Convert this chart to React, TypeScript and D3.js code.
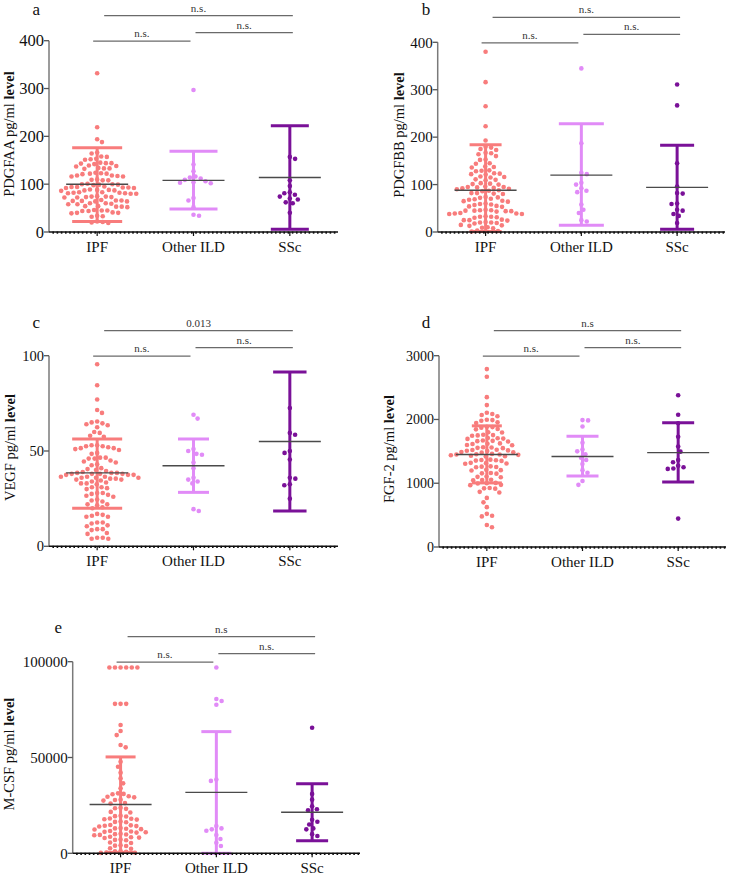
import React from "react";
import * as d3 from "d3";

const CATEGORIES = ["IPF", "Other ILD", "SSc"];
const COLORS = ["#f87c7c", "#e18bf7", "#7a1198"];

// ---------- Panel a: PDGFAA ----------
const PDGFAA_IPF = [332, 219, 194, 188, 166, 164, 158, 157, 153, 152, 151, 145, 144, 144, 143, 142, 139, 138, 137, 134, 133, 133, 132, 124, 123, 122, 122, 121, 118, 118, 117, 116, 116, 110, 109, 108, 108, 101, 100, 100, 99, 99, 98, 95, 94, 94, 93, 93, 92, 92, 89, 88, 88, 87, 87, 86, 83, 83, 82, 82, 81, 81, 80, 80, 75, 74, 74, 73, 73, 72, 72, 67, 66, 66, 65, 65, 64, 64, 60, 60, 59, 58, 58, 54, 54, 53, 53, 52, 46, 45, 45, 44, 44, 41, 40, 40, 39, 34, 33, 32, 22, 21, 20, 19];
const PDGFAA_OTHER = [297, 141, 127, 116, 114, 112, 109, 106, 104, 103, 102, 71, 66, 52, 36, 34];
const PDGFAA_SSC = [157, 153, 108, 96, 83, 81, 78, 74, 70, 68, 62, 60, 40];
const PDGFAA_MEAN = [100, 108, 114];
const PDGFAA_SD_HIGH = [176, 169, 222];
const PDGFAA_SD_LOW = [22, 48, 6];
const PDGFAA_TICKS = [0, 100, 200, 300, 400];
const PDGFAA_SIG = ["n.s.", "n.s.", "n.s."];

// ---------- Panel b: PDGFBB ----------
const PDGFBB_IPF = [380, 316, 265, 223, 193, 180, 178, 175, 173, 167, 166, 164, 160, 153, 152, 145, 144, 138, 137, 136, 130, 129, 128, 124, 123, 122, 121, 117, 116, 115, 111, 110, 109, 103, 102, 101, 100, 96, 95, 95, 94, 93, 92, 91, 90, 88, 87, 86, 82, 82, 81, 80, 74, 73, 72, 70, 69, 68, 66, 65, 64, 60, 59, 58, 57, 55, 54, 53, 47, 46, 46, 45, 45, 44, 44, 43, 40, 39, 39, 38, 38, 33, 32, 32, 31, 30, 26, 25, 25, 24, 21, 20, 20, 19, 18, 15, 14, 13, 10, 9, 8, 3, 2, 1];
const PDGFBB_OTHER = [345, 187, 125, 122, 104, 100, 92, 87, 84, 58, 47, 40, 25, 22];
const PDGFBB_SSC = [311, 267, 145, 96, 82, 81, 60, 59, 47, 45, 38, 34, 19];
const PDGFBB_MEAN = [88, 120, 94];
const PDGFBB_SD_HIGH = [184, 228, 183];
const PDGFBB_SD_LOW = [1, 14, 6];
const PDGFBB_TICKS = [0, 100, 200, 300, 400];
const PDGFBB_SIG = ["n.s.", "n.s.", "n.s."];

// ---------- Panel c: VEGF ----------
const VEGF_IPF = [95.5, 84.5, 77, 71.5, 70, 65.5, 65, 64.5, 64, 63.5, 62.5, 60, 59.5, 58, 57.5, 53, 53, 52.5, 52.5, 52, 51.5, 51.5, 51, 50.5, 49, 48.5, 46.5, 46.5, 46, 46, 45, 44.5, 44, 43, 42.5, 41, 40.5, 40, 39.5, 39, 38.5, 38.5, 38.5, 38, 38, 38, 38, 37.5, 37.5, 37.5, 36.5, 36.5, 36.5, 36, 36, 36, 35.5, 35.5, 35, 35, 34.5, 34, 33.5, 33, 33, 32.5, 31, 31, 30.5, 30, 28, 28, 27.5, 27, 26.5, 26, 24.5, 24, 23.5, 22, 22, 21.5, 20.5, 20, 17, 16.5, 16, 15.5, 15.5, 12.5, 12.5, 12, 11, 10.5, 9, 9, 8.5, 7, 6.5, 4.5, 4.5, 4, 4];
const VEGF_OTHER = [69, 67, 51, 50, 48.5, 48, 44, 41, 36, 35, 34, 33, 19.5, 18.5];
const VEGF_SSC = [72.5, 59.5, 58.5, 50, 49, 45.5, 36, 35.5, 32.5, 32, 25];
const VEGF_MEAN = [38.5, 42.3, 55];
const VEGF_SD_HIGH = [56.3, 56.3, 91.5];
const VEGF_SD_LOW = [20, 28.3, 18.5];
const VEGF_TICKS = [0, 50, 100];
const VEGF_SIG = ["0.013", "n.s.", "n.s."];

// ---------- Panel d: FGF-2 ----------
const FGF2_IPF = [2790, 2670, 2350, 2225, 2105, 2085, 2070, 2050, 1995, 1990, 1980, 1955, 1945, 1885, 1880, 1870, 1850, 1845, 1800, 1795, 1760, 1755, 1750, 1745, 1710, 1705, 1700, 1695, 1670, 1665, 1660, 1655, 1625, 1620, 1615, 1600, 1595, 1565, 1560, 1555, 1550, 1525, 1520, 1515, 1510, 1505, 1490, 1485, 1480, 1460, 1455, 1450, 1450, 1445, 1440, 1430, 1425, 1420, 1370, 1365, 1360, 1355, 1350, 1320, 1315, 1310, 1305, 1265, 1260, 1255, 1250, 1210, 1205, 1200, 1160, 1155, 1150, 1105, 1100, 1095, 1055, 1050, 1045, 1005, 1000, 995, 975, 970, 925, 920, 915, 865, 855, 770, 700, 625, 520, 490, 480, 345, 310];
const FGF2_OTHER = [1990, 1985, 1890, 1635, 1530, 1500, 1455, 1400, 1365, 1300, 1205, 1165, 1035, 975];
const FGF2_SSC = [2380, 2075, 1940, 1730, 1575, 1495, 1365, 1330, 1275, 1250, 1230, 1225, 445];
const FGF2_MEAN = [1450, 1420, 1480];
const FGF2_SD_HIGH = [1900, 1735, 1950];
const FGF2_SD_LOW = [1005, 1115, 1020];
const FGF2_TICKS = [0, 1000, 2000, 3000];
const FGF2_SIG = ["n.s", "n.s.", "n.s."];

// ---------- Panel e: M-CSF ----------
const MCSF_IPF = [97000, 97000, 97000, 97000, 97000, 97000, 78000, 78000, 78000, 67000, 63800, 61700, 56500, 55300, 47800, 45200, 42100, 39100, 36500, 33900, 31300, 31000, 30800, 29800, 29500, 29200, 28000, 27800, 27500, 26200, 26000, 23800, 23500, 23200, 21600, 21300, 19600, 19400, 19200, 18200, 18000, 17800, 17600, 16600, 16400, 16200, 14800, 14600, 14400, 14200, 14000, 13200, 13000, 12800, 12600, 12400, 11600, 11400, 11200, 11000, 10800, 10200, 10000, 9800, 9600, 9400, 8600, 8400, 8200, 8000, 7200, 7000, 6800, 5600, 5400, 4200, 4000, 3800, 2600, 2400, 1200, 1000, 800, 400, 300, 200];
const MCSF_OTHER = [97000, 80500, 79500, 77500, 38500, 37800, 14200, 13000, 12500, 11800, 9500, 7500, 5500, 3800];
const MCSF_SSC = [65500, 31000, 28000, 24500, 23000, 22500, 17500, 16500, 15000, 13000, 12500, 10000, 9000];
const MCSF_MEAN = [25500, 31800, 21400];
const MCSF_SD_HIGH = [50300, 63500, 36300];
const MCSF_SD_LOW = [500, 0, 6600];
const MCSF_TICKS = [0, 50000, 100000];
const MCSF_SIG = ["n.s", "n.s.", "n.s."];

const FONT = "Liberation Serif, Times New Roman, serif";

type PanelCfg = {
  letter: string;
  label: string;
  groups: number[][];
  mean: number[];
  hi: number[];
  lo: number[];
  ticks: number[];
  sig: string[];
  x0: number; x1: number; yTopPx: number; yBotPx: number;
  tickFont: number;
  labelCx: number; labelCy: number;
  letterX: number; letterY: number;
  caps: number[];
};

const PANELS: PanelCfg[] = [
  { letter: "a", label: "PDGFAA pg/ml ", groups: [PDGFAA_IPF, PDGFAA_OTHER, PDGFAA_SSC], mean: PDGFAA_MEAN, hi: PDGFAA_SD_HIGH, lo: PDGFAA_SD_LOW, ticks: PDGFAA_TICKS, sig: PDGFAA_SIG,
    x0: 49, x1: 338, yTopPx: 40.7, yBotPx: 232, tickFont: 16.5, labelCx: 9, labelCy: 134, letterX: 32.5, letterY: 14.5, caps: [25, 24, 19] },
  { letter: "b", label: "PDGFBB pg/ml ", groups: [PDGFBB_IPF, PDGFBB_OTHER, PDGFBB_SSC], mean: PDGFBB_MEAN, hi: PDGFBB_SD_HIGH, lo: PDGFBB_SD_LOW, ticks: PDGFBB_TICKS, sig: PDGFBB_SIG,
    x0: 437.7, x1: 725, yTopPx: 42.3, yBotPx: 232, tickFont: 15, labelCx: 399, labelCy: 135, letterX: 421.7, letterY: 15, caps: [16, 22.5, 17] },
  { letter: "c", label: "VEGF pg/ml ", groups: [VEGF_IPF, VEGF_OTHER, VEGF_SSC], mean: VEGF_MEAN, hi: VEGF_SD_HIGH, lo: VEGF_SD_LOW, ticks: VEGF_TICKS, sig: VEGF_SIG,
    x0: 49, x1: 338, yTopPx: 355.7, yBotPx: 546.3, tickFont: 14.5, labelCx: 9.5, labelCy: 447.5, letterX: 32.5, letterY: 327.5, caps: [25, 15.5, 16.7] },
  { letter: "d", label: "FGF-2 pg/ml ", groups: [FGF2_IPF, FGF2_OTHER, FGF2_SSC], mean: FGF2_MEAN, hi: FGF2_SD_HIGH, lo: FGF2_SD_LOW, ticks: FGF2_TICKS, sig: FGF2_SIG,
    x0: 439, x1: 726, yTopPx: 355.7, yBotPx: 547, tickFont: 14, labelCx: 389, labelCy: 449, letterX: 421.7, letterY: 327.5, caps: [15, 16, 16] },
  { letter: "e", label: "M-CSF pg/ml ", groups: [MCSF_IPF, MCSF_OTHER, MCSF_SSC], mean: MCSF_MEAN, hi: MCSF_SD_HIGH, lo: MCSF_SD_LOW, ticks: MCSF_TICKS, sig: MCSF_SIG,
    x0: 72.7, x1: 360, yTopPx: 661.7, yBotPx: 853.3, tickFont: 15, labelCx: 9, labelCy: 754, letterX: 54.5, letterY: 632.7, caps: [15, 15, 16] },
];

const R = 2.3;

function swarm(values: number[], y: (v: number) => number, cx: number) {
  const D = 2 * R + 1.0;
  const items = values.map((v) => ({ v, y: y(v) })).sort((a, b) => a.y - b.y);
  const placed: { x: number; y: number }[] = [];
  let toggle = 1;
  for (const it of items) {
    const ivs: [number, number][] = [];
    for (const p of placed) {
      const dy = Math.abs(p.y - it.y);
      if (dy < D) {
        const h = Math.sqrt(D * D - dy * dy);
        ivs.push([p.x - h, p.x + h]);
      }
    }
    const cands = [0];
    ivs.forEach(([a, b]) => { cands.push(a, b); });
    const valid = cands.filter((c) => ivs.every(([a, b]) => c <= a + 1e-6 || c >= b - 1e-6));
    valid.sort((a, b) => {
      const d = Math.abs(a) - Math.abs(b);
      if (Math.abs(d) > 1e-6) return d;
      return toggle > 0 ? b - a : a - b;
    });
    const x = valid[0];
    if (x !== 0) toggle = -Math.sign(x);
    placed.push({ x, y: it.y });
  }
  return placed.map((p) => ({ x: cx + p.x, y: p.y }));
}

function Panel({ cfg }: { cfg: PanelCfg }) {
  const maxV = cfg.ticks[cfg.ticks.length - 1];
  const y = d3.scaleLinear().domain([0, maxV]).range([cfg.yBotPx, cfg.yTopPx]);
  const x = d3.scalePoint<string>().domain(CATEGORIES).range([cfg.x0, cfg.x1]).padding(0.5);
  const cxs = CATEGORIES.map((c) => x(c) as number);
  const dots = d3.range(cfg.x0 + 4.2, cfg.x1, 4.2);
  const yTop = cfg.yTopPx;
  const sigLines = [
    { x1: cxs[0] + 7, x2: cxs[2] + 3, y: yTop - 25, t: cfg.sig[0] },
    { x1: cxs[0] - 4, x2: cxs[1] - 3, y: yTop + 0.5, t: cfg.sig[1] },
    { x1: cxs[1] + 2, x2: cxs[2] + 3, y: yTop - 8, t: cfg.sig[2] },
  ];
  return (
    <g fontFamily={FONT}>
      <text x={cfg.letterX} y={cfg.letterY} fontSize={17} fill="#111">{cfg.letter}</text>
      <text transform={`translate(${cfg.labelCx},${cfg.labelCy}) rotate(-90)`} textAnchor="middle" dominantBaseline="central"
        fontSize={14.5} fill="#111">
        {cfg.label}<tspan fontWeight="bold">level</tspan>
      </text>
      <line x1={cfg.x0} x2={cfg.x0} y1={y(0)} y2={y(maxV)} stroke="#7a7a7a" strokeWidth={1.5} />
      {cfg.ticks.map((t) => (
        <g key={t}>
          <line x1={cfg.x0 - 5} x2={cfg.x0} y1={y(t)} y2={y(t)} stroke="#555" strokeWidth={1.3} />
          <text x={cfg.x0 - 5} y={y(t)} dy="0.35em" textAnchor="end" fontSize={cfg.tickFont} fill="#111">{t}</text>
        </g>
      ))}
      {cfg.groups.map((vals, gi) =>
        swarm(vals, (v) => y(v), cxs[gi]).map((p, i) => (
          <circle key={`${gi}-${i}`} cx={p.x} cy={p.y} r={R} fill={COLORS[gi]} />
        ))
      )}
      {cfg.mean.map((m, gi) => {
        const cx = cxs[gi];
        const cw = cfg.caps[gi];
        return (
          <g key={`eb${gi}`}>
            <line x1={cx} x2={cx} y1={y(cfg.hi[gi])} y2={y(cfg.lo[gi])} stroke={COLORS[gi]} strokeWidth={3} />
            <line x1={cx - cw} x2={cx + cw} y1={y(cfg.hi[gi])} y2={y(cfg.hi[gi])} stroke={COLORS[gi]} strokeWidth={3} />
            <line x1={cx - cw} x2={cx + cw} y1={y(cfg.lo[gi])} y2={y(cfg.lo[gi])} stroke={COLORS[gi]} strokeWidth={3} />
            <line x1={cx - 31} x2={cx + 31} y1={y(m)} y2={y(m)} stroke="#4a4a4a" strokeWidth={1.4} />
          </g>
        );
      })}
      <line x1={cfg.x0} x2={cfg.x1} y1={y(0)} y2={y(0)} stroke="#111" strokeWidth={1.4} />
      {dots.map((d, i) => (
        <rect key={`d${i}`} x={d - 0.8} y={y(0) - 0.5} width={1.6} height={2.2} fill="#111" />
      ))}
      {cxs.map((cx, i) => (
        <g key={`xt${i}`}>
          <line x1={cx} x2={cx} y1={y(0)} y2={y(0) + 4} stroke="#111" strokeWidth={1.2} />
          <text x={cx} y={y(0) + 20} textAnchor="middle" fontSize={15} fill="#111">{CATEGORIES[i]}</text>
        </g>
      ))}
      {sigLines.map((s, i) => (
        <g key={`s${i}`}>
          <line x1={s.x1} x2={s.x2} y1={s.y} y2={s.y} stroke="#6a6a6a" strokeWidth={1.3} />
          <text x={(s.x1 + s.x2) / 2} y={s.y - 4} textAnchor="middle" fontSize={11} fill="#333">{s.t}</text>
        </g>
      ))}
    </g>
  );
}

export default function App() {
  return (
    <svg width={729} height={875} style={{ position: "absolute", left: 0, top: 0, background: "#fff" }}>
      <rect width={729} height={875} fill="#fff" />
      {PANELS.map((p) => <Panel key={p.letter} cfg={p} />)}
    </svg>
  );
}
